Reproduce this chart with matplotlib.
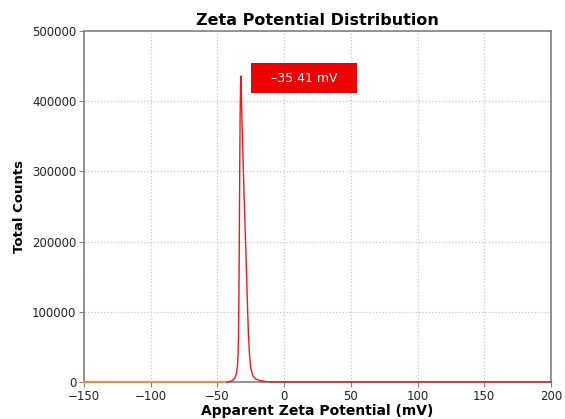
import matplotlib
matplotlib.use("Agg")
import matplotlib.pyplot as plt
from matplotlib.patches import Rectangle

plt.rcParams['font.family'] = ['DejaVu Sans']

# Data
zeta_baseline = [-150, -43]
counts_baseline = [0, 0]

zeta_peak = [-43, -40.5, -38.5, -37.0, -35.8, -35.0, -34.5, -34.2, -33.9,
             -33.6, -33.3, -33.0, -32.7, -32.3,
             -31.9, -31.2, -30.1, -29.0, -28.2, -27.5, -26.8, -26.0, -25.0,
             -23.5, -21.5, -18.5, -14.5, -10, 200]
counts_peak = [0, 900, 2500, 5500, 12000, 22000, 40000, 70000, 120000,
               200000, 300000, 380000, 420000, 436000,
               395000, 345000, 270000, 205000, 155000, 110000, 70000, 40000, 20000,
               9000, 4500, 2200, 900, 0, 0]

peak_label = "\u201335.41 mV"
title = "Zeta Potential Distribution"
xlabel = "Apparent Zeta Potential (mV)"
ylabel = "Total Counts"
xticks = [-150, -100, -50, 0, 50, 100, 150, 200]
yticks = [0, 100000, 200000, 300000, 400000, 500000]

fig = plt.figure(figsize=(5.65, 4.19), dpi=100)
ax = fig.add_axes([84/565, 1-382/419, 467/565, 351/419])

ax.plot(zeta_baseline, counts_baseline, color="#f08a4b", lw=1.5, zorder=3, clip_on=False)
ax.plot(zeta_peak, counts_peak, color="#f01818", lw=1.0, zorder=3, clip_on=False)

ax.set_xlim(-150, 200)
ax.set_ylim(0, 500000)
ax.set_xticks(xticks)
ax.set_yticks(yticks)
ax.set_xticklabels([("\u2212%d" % -v) if v < 0 else str(v) for v in xticks])
ax.grid(True, linestyle=":", color="#c8c8c8", lw=0.9)
ax.set_axisbelow(True)

for s in ax.spines.values():
    s.set_color("#808080")
    s.set_linewidth(1.2)
ax.tick_params(axis="both", colors="#808080", labelcolor="#222222", labelsize=8.5, length=3.5, pad=2)

ax.set_title(title, fontsize=11.5, fontweight="bold", pad=4)
ax.set_xlabel(xlabel, fontsize=10, fontweight="bold", labelpad=1)
ax.set_ylabel(ylabel, fontsize=9.5, fontweight="bold", labelpad=4)

ax.add_patch(Rectangle((0.3576, 0.8234), 0.227, 0.0855, transform=ax.transAxes,
                       facecolor="#ee0000", edgecolor="none", zorder=5))
ax.text(0.4711, 0.866, peak_label, transform=ax.transAxes, ha="center", va="center",
        color="white", fontsize=9, zorder=6)

fig.savefig("out.png", dpi=100)
